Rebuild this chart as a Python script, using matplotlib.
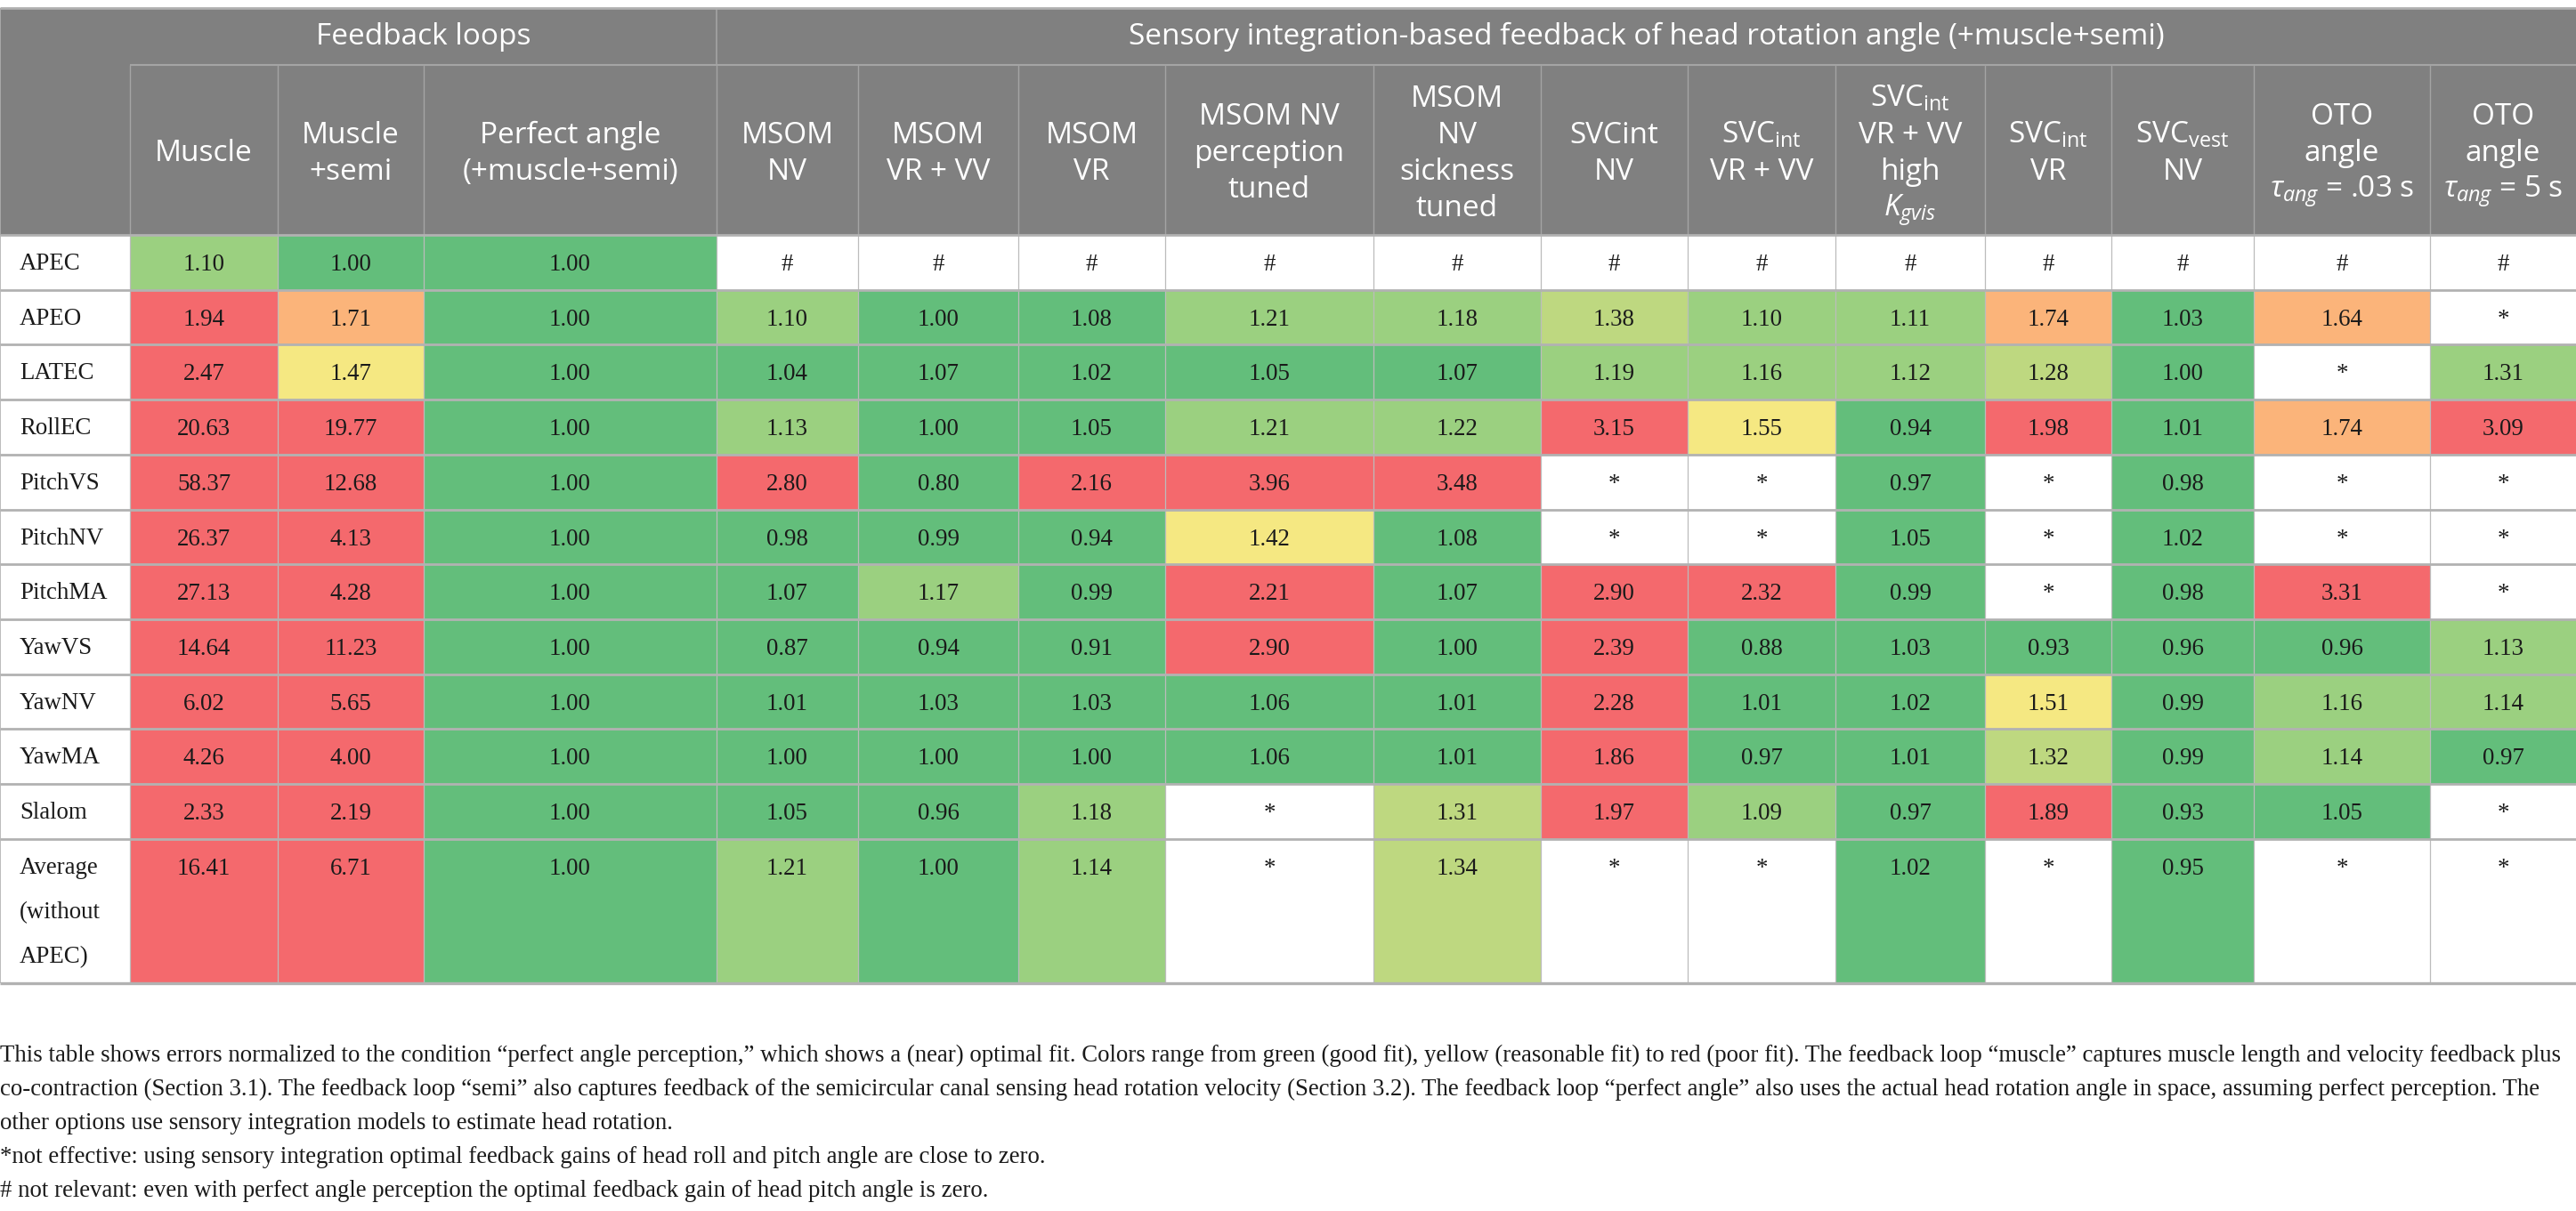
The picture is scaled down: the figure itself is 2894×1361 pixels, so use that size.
import matplotlib.pyplot as plt
from matplotlib.patches import Rectangle

plt.rcParams['mathtext.fontset'] = 'custom'
plt.rcParams['mathtext.rm'] = 'Open Sans'
plt.rcParams['mathtext.it'] = 'Open Sans:italic'
plt.rcParams['mathtext.sf'] = 'Open Sans'

# table content
groups = ["Feedback loops",
          "Sensory integration-based feedback of head rotation angle (+muscle+semi)"]
group_span = [3, 12]

columns = ["Muscle", "Muscle\n+semi", "Perfect angle\n(+muscle+semi)",
           "MSOM\nNV", "MSOM\nVR + VV", "MSOM\nVR",
           "MSOM NV\nperception\ntuned", "MSOM\nNV\nsickness\ntuned",
           "SVCint\nNV", "SVC$_{\\mathrm{int}}$\nVR + VV",
           "SVC$_{\\mathrm{int}}$\nVR + VV\nhigh\n$K_{gvis}$",
           "SVC$_{\\mathrm{int}}$\nVR", "SVC$_{\\mathrm{vest}}$\nNV",
           "OTO\nangle\n$\\tau_{ang}$ = .03 s", "OTO\nangle\n$\\tau_{ang}$ = 5 s"]

rows = ["APEC", "APEO", "LATEC", "RollEC", "PitchVS", "PitchNV", "PitchMA",
        "YawVS", "YawNV", "YawMA", "Slalom", "Average\n(without\nAPEC)"]

values = [
    ["1.10", "1.00", "1.00", "#", "#", "#", "#", "#", "#", "#", "#", "#", "#", "#", "#"],
    ["1.94", "1.71", "1.00", "1.10", "1.00", "1.08", "1.21", "1.18", "1.38", "1.10", "1.11", "1.74", "1.03", "1.64", "*"],
    ["2.47", "1.47", "1.00", "1.04", "1.07", "1.02", "1.05", "1.07", "1.19", "1.16", "1.12", "1.28", "1.00", "*", "1.31"],
    ["20.63", "19.77", "1.00", "1.13", "1.00", "1.05", "1.21", "1.22", "3.15", "1.55", "0.94", "1.98", "1.01", "1.74", "3.09"],
    ["58.37", "12.68", "1.00", "2.80", "0.80", "2.16", "3.96", "3.48", "*", "*", "0.97", "*", "0.98", "*", "*"],
    ["26.37", "4.13", "1.00", "0.98", "0.99", "0.94", "1.42", "1.08", "*", "*", "1.05", "*", "1.02", "*", "*"],
    ["27.13", "4.28", "1.00", "1.07", "1.17", "0.99", "2.21", "1.07", "2.90", "2.32", "0.99", "*", "0.98", "3.31", "*"],
    ["14.64", "11.23", "1.00", "0.87", "0.94", "0.91", "2.90", "1.00", "2.39", "0.88", "1.03", "0.93", "0.96", "0.96", "1.13"],
    ["6.02", "5.65", "1.00", "1.01", "1.03", "1.03", "1.06", "1.01", "2.28", "1.01", "1.02", "1.51", "0.99", "1.16", "1.14"],
    ["4.26", "4.00", "1.00", "1.00", "1.00", "1.00", "1.06", "1.01", "1.86", "0.97", "1.01", "1.32", "0.99", "1.14", "0.97"],
    ["2.33", "2.19", "1.00", "1.05", "0.96", "1.18", "*", "1.31", "1.97", "1.09", "0.97", "1.89", "0.93", "1.05", "*"],
    ["16.41", "6.71", "1.00", "1.21", "1.00", "1.14", "*", "1.34", "*", "*", "1.02", "*", "0.95", "*", "*"],
]

# fit class of each cell as coloured in the original (G good ... R poor, - none)
fit = [
    "LGG------------",
    "ROGLGGLLKLLOGO-",
    "RYGGGGGGLLLKG-L",
    "RRGLGGLLRYGRGOR",
    "RRGRGRRR--G-G--",
    "RRGGGGYG--G-G--",
    "RRGGLGRGRRG-GR-",
    "RRGGGGRGRGGGGGL",
    "RRGGGGGGRGGYGLL",
    "RRGGGGGGRGGKGLG",
    "RRGGGL-KRLGRGG-",
    "RRGLGL-K--G-G--",
]

notes = [
    "This table shows errors normalized to the condition \u201cperfect angle perception,\u201d which shows a (near) optimal fit. "
    "Colors range from green (good fit), yellow (reasonable fit) to red (poor fit). The feedback loop \u201cmuscle\u201d captures "
    "muscle length and velocity feedback plus",
    "co-contraction (Section 3.1). The feedback loop \u201csemi\u201d also captures feedback of the semicircular canal sensing head "
    "rotation velocity (Section 3.2). The feedback loop \u201cperfect angle\u201d also uses the actual head rotation angle in space, "
    "assuming perfect perception. The",
    "other options use sensory integration models to estimate head rotation.",
    "*not effective: using sensory integration optimal feedback gains of head roll and pitch angle are close to zero.",
    "# not relevant: even with perfect angle perception the optimal feedback gain of head pitch angle is zero.",
]

# layout (pixels)
col_w = [146, 166, 164, 329, 159, 180, 165, 234, 188, 165, 166, 168, 142, 160, 198, 164]
x_edges = [0]
for w in col_w:
    x_edges.append(x_edges[-1] + w)
top, h1, h2 = 9, 73, 264
row_h = 61.7
y_edges = [h2 + row_h * i for i in range(len(rows))] + [1105]

palette = {"G": "#63be7b", "L": "#9bd080", "K": "#bed880", "Y": "#f5e882",
           "O": "#fbb47a", "R": "#f4696d", "-": "white"}
head_bg = "#808080"
serif = "Liberation Serif"
sans = "Open Sans"

fig = plt.figure(figsize=(28.94, 13.61), dpi=100)
ax = fig.add_axes([0, 0, 1, 1])
ax.set_xlim(0, 2894)
ax.set_ylim(1361, 0)
ax.axis("off")

# header
ax.add_patch(Rectangle((0, top), x_edges[-1], h2 - top, color=head_bg, lw=0))
g0 = 1
for g, n in zip(groups, group_span):
    xa, xb = x_edges[g0], x_edges[g0 + n]
    ax.text((xa + xb) / 2, (top + h1) / 2, g, color="white", family=sans,
            fontsize=24, ha="center", va="center")
    if g0 > 1:
        ax.vlines(xa, top, h1, color="#a4a4a4", lw=1.2)
    g0 += n
ax.hlines(h1, x_edges[1], x_edges[-1], color="#a4a4a4", lw=1.5)
for j, c in enumerate(columns):
    xa, xb = x_edges[j + 1], x_edges[j + 2]
    lines = c.split("\n")
    n = len(lines)
    for k, line in enumerate(lines):
        yb = 181 + (k - (n - 1) / 2) * 41
        ax.text((xa + xb) / 2, yb, line, color="white", family=sans,
                fontsize=24, ha="center", va="baseline")
    ax.vlines(xa, h1, h2, color="#a4a4a4", lw=1.0)

# body cells
for i, r in enumerate(rows):
    ya, yb = y_edges[i], y_edges[i + 1]
    for j, v in enumerate(values[i]):
        xa, xb = x_edges[j + 1], x_edges[j + 2]
        ax.add_patch(Rectangle((xa, ya), xb - xa, yb - ya,
                               color=palette[fit[i][j]], lw=0))
        ax.text((xa + xb) / 2, ya + 40, v, family=serif, fontsize=19.4,
                ha="center", va="baseline", color="#1a1a1a")
    for k, line in enumerate(r.split("\n")):
        ax.text(22, ya + 39 + 50 * k, line, family=serif, fontsize=19.4,
                ha="left", va="baseline", color="#1a1a1a")

# grid lines
for x in x_edges[1:-1]:
    ax.vlines(x, h2, y_edges[-1], color="#bcbcbc", lw=0.9)
ax.vlines(0, top, y_edges[-1], color="#b0b0b0", lw=1.2)
for y in y_edges[:-1]:
    ax.hlines(y, 0, x_edges[-1], color="#b2b2b2", lw=2.0)
ax.hlines(y_edges[-1], 0, x_edges[-1], color="#b2b2b2", lw=2.4)
ax.hlines(top, 0, x_edges[-1], color="#b0b0b0", lw=2.0)

# footnotes
for k, line in enumerate(notes):
    ax.text(0, 1193 + 38 * k, line, family=serif, fontsize=19.3,
            ha="left", va="baseline", color="#1a1a1a")

fig.savefig("out.png", dpi=100)
